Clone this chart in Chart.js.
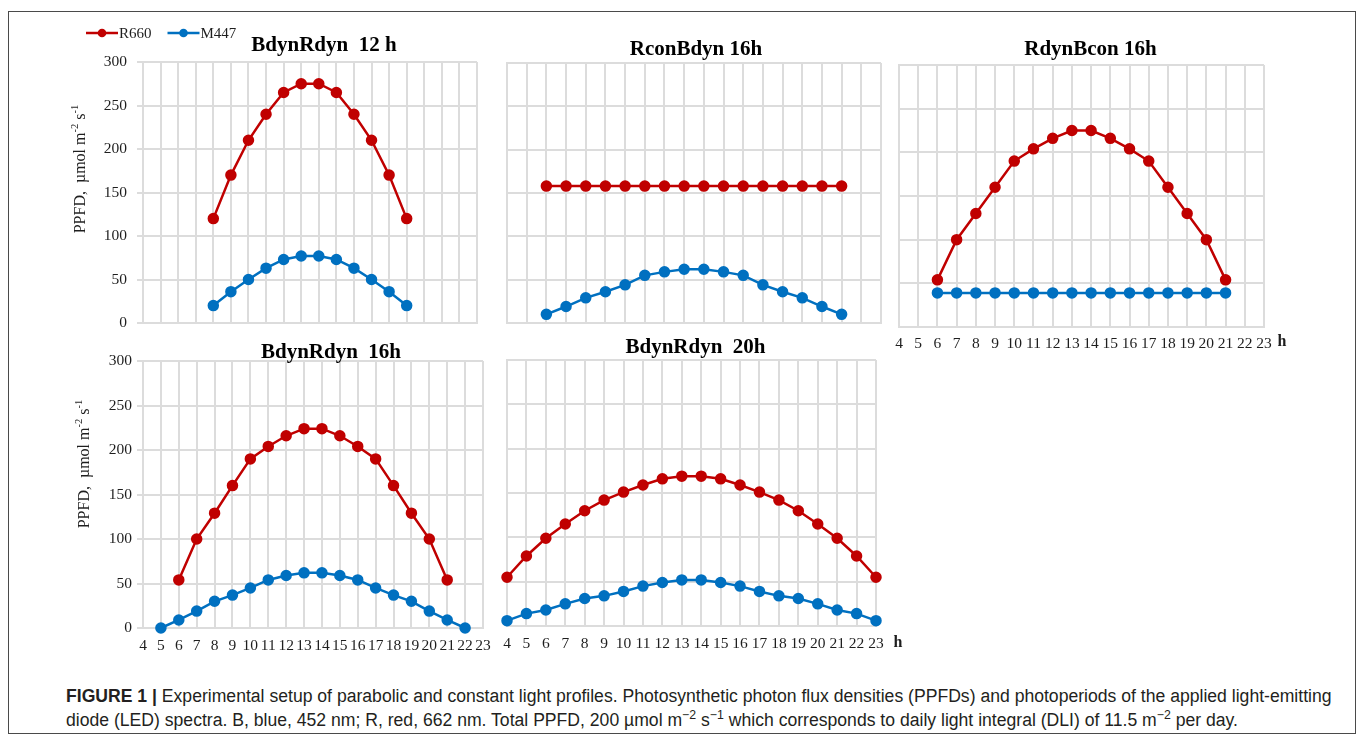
<!DOCTYPE html>
<html>
<head>
<meta charset="utf-8">
<script src="https://cdn.jsdelivr.net/npm/chart.js@4.4.1/dist/chart.umd.min.js"></script>
<style>
  html, body { margin: 0; padding: 0; background: #fff; }
  body { width: 1357px; height: 736px; position: relative; overflow: hidden; }
  .frame { position: absolute; left: 8px; top: 11px; width: 1348px; height: 723px;
           border: 1px solid #4a4a4a; box-sizing: border-box; }
  canvas { position: absolute; }
  .caption { position: absolute; left: 66px; top: 685px; white-space: nowrap;
             font-family: "Liberation Sans", Arial, sans-serif; font-size: 17.6px;
             line-height: 23.5px; color: #231f20; }
  .caption sup { font-size: 70%; line-height: 0; vertical-align: 0.55em; }
</style>
</head>
<body>
<div class="frame"></div>
<canvas id="p12"></canvas>
<canvas id="rcon16"></canvas>
<canvas id="bcon16"></canvas>
<canvas id="bdyn16"></canvas>
<canvas id="bdyn20"></canvas>
<div class="caption"><b>FIGURE 1 |</b> Experimental setup of parabolic and constant light profiles. Photosynthetic photon flux densities (PPFDs) and photoperiods of the applied light-emitting<br>diode (LED) spectra. B, blue, 452 nm; R, red, 662 nm. Total PPFD, 200 &micro;mol m<sup>&minus;2</sup> s<sup>&minus;1</sup> which corresponds to daily light integral (DLI) of 11.5 m<sup>&minus;2</sup> per day.</div>

<script>
// ---- hour axis -------------------------------------------------------
const HOUR_MIN = 4;
const HOUR_MAX = 23;
const PPFD_MIN = 0;
const PPFD_MAX = 300;
const PPFD_STEP = 50;

// ---- photoperiods (hours at which each profile is sampled) -----------
const HOURS_12H = [8, 9, 10, 11, 12, 13, 14, 15, 16, 17, 18, 19];
const HOURS_16H = [6, 7, 8, 9, 10, 11, 12, 13, 14, 15, 16, 17, 18, 19, 20, 21];
const HOURS_16H_BLUE = [5, 6, 7, 8, 9, 10, 11, 12, 13, 14, 15, 16, 17, 18, 19, 20, 21, 22];
const HOURS_20H = [4, 5, 6, 7, 8, 9, 10, 11, 12, 13, 14, 15, 16, 17, 18, 19, 20, 21, 22, 23];

// ---- PPFD values, µmol m-2 s-1 ---------------------------------------
// BdynRdyn 12 h
const BR12_R660 = [120, 170, 210, 240, 265, 275, 275, 265, 240, 210, 170, 120];
const BR12_M447 = [20, 36, 50, 63, 73, 77, 77, 73, 63, 50, 36, 20];
// RconBdyn 16h
const RCON16_R660 = [158, 158, 158, 158, 158, 158, 158, 158, 158, 158, 158, 158, 158, 158, 158, 158];
const RCON16_M447 = [10, 19, 29, 36, 44, 55, 59, 62, 62, 59, 55, 44, 36, 29, 19, 10];
// RdynBcon 16h
const BCON16_R660 = [54, 100, 130, 160, 190, 204, 216, 225, 225, 216, 204, 190, 160, 130, 100, 54];
const BCON16_M447 = [39, 39, 39, 39, 39, 39, 39, 39, 39, 39, 39, 39, 39, 39, 39, 39];
// BdynRdyn 16h
const BR16_R660 = [54, 100, 129, 160, 190, 204, 216, 224, 224, 216, 204, 190, 160, 129, 100, 54];
const BR16_M447 = [0, 9, 19, 30, 37, 45, 54, 59, 62, 62, 59, 54, 45, 37, 30, 19, 9, 0];
// BdynRdyn 20h
const BR20_R660 = [55, 79, 99, 115, 130, 142, 151, 159, 166, 169, 169, 166, 159, 151, 142, 130, 115, 99, 79, 55];
const BR20_M447 = [6, 14, 18, 25, 31, 34, 39, 45, 49, 52, 52, 49, 45, 39, 34, 31, 25, 18, 14, 6];

// ---- series names and colours ----------------------------------------
const RED_NAME = 'R660';
const BLUE_NAME = 'M447';
const RED = '#c00000';
const BLUE = '#0070c0';
const GRID = '#dcdcdc';
const INK = '#1e1e1e';
const SERIF = '"Liberation Serif", "Times New Roman", serif';

Chart.defaults.font.family = SERIF;
Chart.defaults.color = INK;

// Panel titles, axis unit, y-axis title and the shared legend
const panelText = {
  id: 'panelText',
  afterDraw(chart, args, o) {
    const ctx = chart.ctx, a = chart.chartArea;
    ctx.save();
    ctx.fillStyle = '#000';
    if (o.title) {
      ctx.font = 'bold 21px ' + SERIF;
      ctx.textAlign = 'center';
      ctx.textBaseline = 'alphabetic';
      ctx.fillText(o.title, (a.left + a.right) / 2 + o.titleDx, a.top + o.titleDy);
    }
    if (o.unit) {
      ctx.font = 'bold 16px ' + SERIF;
      ctx.fillStyle = INK;
      ctx.textAlign = 'center';
      ctx.textBaseline = 'middle';
      ctx.fillText(o.unit.text, a.right + o.unit.dx, a.bottom + o.unit.dy);
    }
    if (o.yTitle) {
      const parts = o.yTitle.parts, size = o.yTitle.size;
      ctx.translate(a.left + o.yTitle.dx, a.top + o.yTitle.dy);
      ctx.rotate(-Math.PI / 2);
      ctx.fillStyle = INK;
      ctx.textAlign = 'left';
      ctx.textBaseline = 'middle';
      let w = 0;
      parts.forEach(p => {
        ctx.font = (p.sup ? size * 0.66 : size) + 'px ' + SERIF;
        w += ctx.measureText(p.t).width;
      });
      let x = -w / 2;
      parts.forEach(p => {
        ctx.font = (p.sup ? size * 0.66 : size) + 'px ' + SERIF;
        ctx.fillText(p.t, x, p.sup ? -size * 0.36 : 0);
        x += ctx.measureText(p.t).width;
      });
      ctx.setTransform(1, 0, 0, 1, 0, 0);
    }
    if (o.legend) {
      const L = o.legend;
      let x = a.left + L.dx;
      const y = a.top + L.dy;
      ctx.font = '15px ' + SERIF;
      ctx.textAlign = 'left';
      ctx.textBaseline = 'middle';
      chart.data.datasets.forEach(ds => {
        ctx.strokeStyle = ds.borderColor;
        ctx.lineWidth = 2.5;
        ctx.beginPath();
        ctx.moveTo(x, y);
        ctx.lineTo(x + L.line, y);
        ctx.stroke();
        ctx.fillStyle = ds.borderColor;
        ctx.beginPath();
        ctx.arc(x + L.line / 2, y, 4.3, 0, Math.PI * 2);
        ctx.fill();
        ctx.fillStyle = INK;
        ctx.fillText(ds.label, x + L.line + 1, y + 1);
        x += L.line + 1 + ctx.measureText(ds.label).width + L.gap;
      });
    }
    ctx.restore();
  }
};

const Y_TITLE = [
  { t: 'PPFD,  \u00b5mol m' }, { t: '-2', sup: true },
  { t: ' s' }, { t: '-1', sup: true }
];

function series(name, color, hours, values) {
  return {
    label: name,
    data: hours.map((h, i) => ({ x: h, y: values[i] })),
    borderColor: color,
    backgroundColor: color,
    pointBackgroundColor: color,
    pointBorderColor: color,
    borderWidth: 2.5,
    pointRadius: 4.5,
    pointHoverRadius: 4.5,
    tension: 0,
    clip: false
  };
}

function panel(id, box, cfg) {
  const el = document.getElementById(id);
  el.width = box.w;
  el.height = box.h;
  el.style.left = box.x + 'px';
  el.style.top = box.y + 'px';
  return new Chart(el, {
    type: 'line',
    data: { datasets: cfg.datasets },
    options: {
      responsive: false,
      animation: false,
      devicePixelRatio: 1,
      events: [],
      layout: { padding: box.pad },
      plugins: {
        legend: { display: false },
        tooltip: { enabled: false },
        panelText: cfg.text
      },
      scales: {
        x: {
          type: 'linear', min: HOUR_MIN, max: HOUR_MAX,
          ticks: { stepSize: 1, display: cfg.xLabels, autoSkip: false, maxRotation: 0,
                   padding: cfg.xPad || 0, color: INK, font: { size: 15.5 } },
          grid: { color: GRID, lineWidth: 2, drawTicks: false },
          border: { color: GRID, width: 2 },
          afterFit: s => { s.height = box.xh; s.paddingLeft = 0; s.paddingRight = 0; }
        },
        y: {
          min: PPFD_MIN, max: PPFD_MAX,
          ticks: { stepSize: PPFD_STEP, display: cfg.yLabels, padding: cfg.yPad || 0,
                   color: INK, font: { size: 15.5 } },
          grid: { color: GRID, lineWidth: 2, drawTicks: cfg.yLabels, tickLength: 6 },
          border: { color: GRID, width: 2 },
          afterFit: s => { s.width = box.yw; s.paddingTop = 0; s.paddingBottom = 0; }
        }
      }
    },
    plugins: [panelText]
  });
}

// BdynRdyn 12 h (carries the legend)
panel('p12', { x: 66, y: 18, w: 418, h: 312, pad: { left: 0, top: 44, right: 4, bottom: 6 }, yw: 77, xh: 0 }, {
  datasets: [series(RED_NAME, RED, HOURS_12H, BR12_R660), series(BLUE_NAME, BLUE, HOURS_12H, BR12_M447)],
  xLabels: false, yLabels: true, yPad: 10,
  text: { title: 'BdynRdyn  12 h', titleDx: 14, titleDy: -11,
          yTitle: { parts: Y_TITLE, size: 16, dx: -62, dy: 107 },
          legend: { dx: -57, dy: -29, line: 32, gap: 16 } }
});

// RconBdyn 16h
panel('rcon16', { x: 500, y: 30, w: 388, h: 300, pad: { left: 7, top: 33, right: 6, bottom: 4 }, yw: 0, xh: 0 }, {
  datasets: [series(RED_NAME, RED, HOURS_16H, RCON16_R660), series(BLUE_NAME, BLUE, HOURS_16H, RCON16_M447)],
  xLabels: false, yLabels: false,
  text: { title: 'RconBdyn 16h', titleDx: 2, titleDy: -8 }
});

// RdynBcon 16h
panel('bcon16', { x: 892, y: 30, w: 403, h: 325, pad: { left: 7, top: 35, right: 31, bottom: 0 }, yw: 0, xh: 28 }, {
  datasets: [series(RED_NAME, RED, HOURS_16H, BCON16_R660), series(BLUE_NAME, BLUE, HOURS_16H, BCON16_M447)],
  xLabels: true, xPad: 8, yLabels: false,
  text: { title: 'RdynBcon 16h', titleDx: 9, titleDy: -10,
          unit: { text: 'h', dx: 18, dy: 15 } }
});

// BdynRdyn 16h
panel('bdyn16', { x: 66, y: 330, w: 429, h: 326, pad: { left: 0, top: 31, right: 12, bottom: 0 }, yw: 77, xh: 28 }, {
  datasets: [series(RED_NAME, RED, HOURS_16H, BR16_R660), series(BLUE_NAME, BLUE, HOURS_16H_BLUE, BR16_M447)],
  xLabels: true, xPad: 9, yLabels: true, yPad: 5,
  text: { title: 'BdynRdyn  16h', titleDx: 18, titleDy: -3,
          yTitle: { parts: Y_TITLE, size: 16, dx: -58, dy: 103 } }
});

// BdynRdyn 20h
panel('bdyn20', { x: 498, y: 325, w: 412, h: 329, pad: { left: 9, top: 35, right: 34, bottom: 0 }, yw: 0, xh: 28 }, {
  datasets: [series(RED_NAME, RED, HOURS_20H, BR20_R660), series(BLUE_NAME, BLUE, HOURS_20H, BR20_M447)],
  xLabels: true, xPad: 9, yLabels: false,
  text: { title: 'BdynRdyn  20h', titleDx: 4, titleDy: -7,
          unit: { text: 'h', dx: 22, dy: 17 } }
});
</script>
</body>
</html>
